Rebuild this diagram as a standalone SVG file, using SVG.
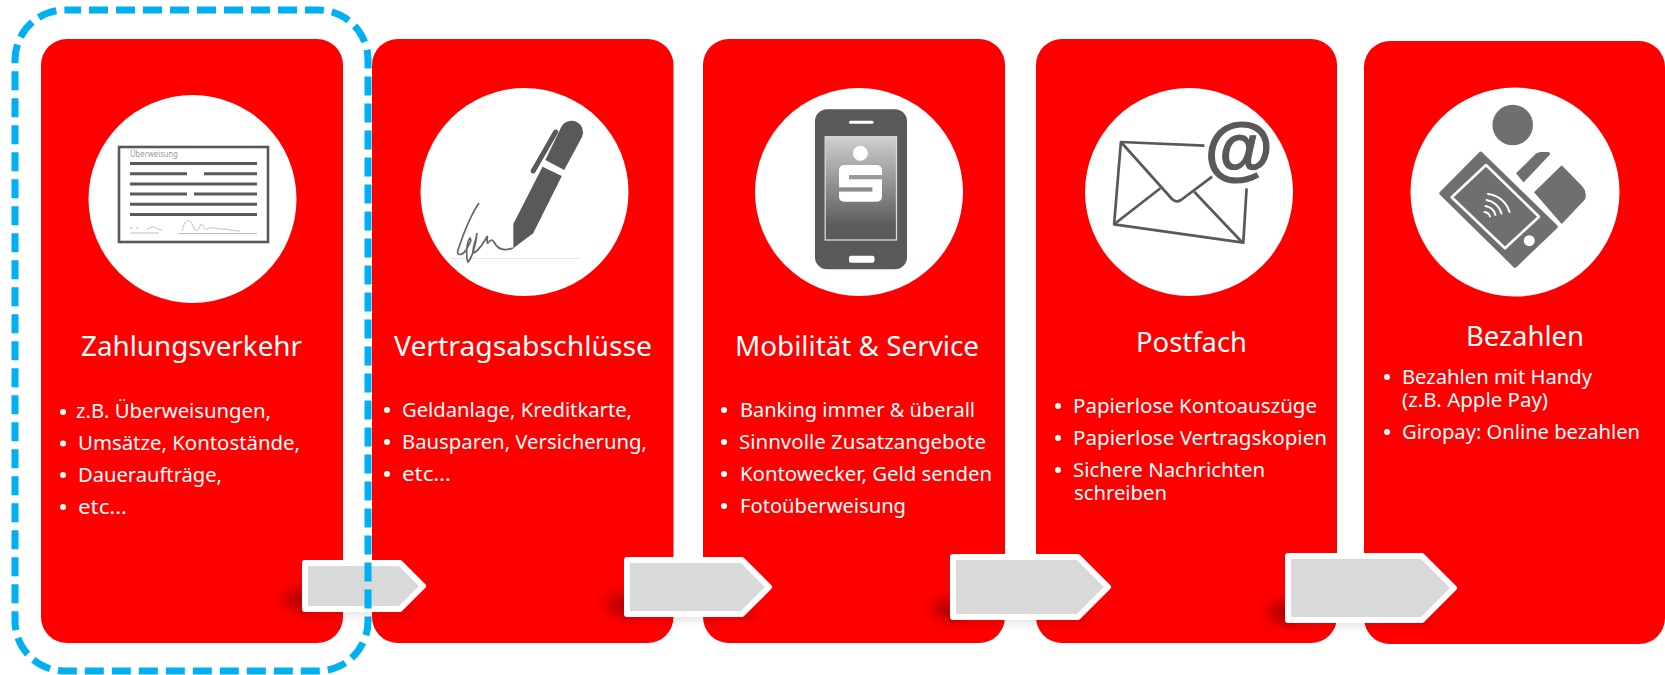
<svg xmlns="http://www.w3.org/2000/svg" width="1665" height="675" viewBox="0 0 1665 675">
<style>
.card{fill:#ff0000}
.disc{fill:#fff}
.t{font-family:"Noto Sans","Open Sans",sans-serif;font-size:28px;fill:#fff}
.b{font-family:"Noto Sans","Open Sans",sans-serif;font-size:20.5px;fill:#fff}
.dot{fill:#fff}
.ic{fill:#595959}
.ln{stroke:#595959;stroke-width:3;fill:none}
.gl{stroke:#bdbdbd;stroke-width:1;fill:none}
.ar{fill:#d9d9d9;stroke:#fff;stroke-width:6;stroke-linejoin:round}
.s1{fill:#000;opacity:.3;filter:url(#bl)}
.s2{fill:#000;opacity:.1;filter:url(#bl2)}
.pay{fill:#6f6f6f}
.w{fill:none;stroke:#fff;stroke-width:2;stroke-linecap:round}
</style>
<defs>
<linearGradient id="scr" gradientUnits="userSpaceOnUse" x1="0" y1="137" x2="0" y2="240"><stop offset="0" stop-color="#cfcfcf"/><stop offset=".85" stop-color="#5d5d5d"/><stop offset="1" stop-color="#595959"/></linearGradient>
<filter id="bl" x="-80%" y="-80%" width="260%" height="260%"><feGaussianBlur stdDeviation="7"/></filter>
<filter id="bl2" x="-20%" y="-100%" width="140%" height="300%"><feGaussianBlur stdDeviation="4"/></filter>
</defs>

<g id="node-zahlungsverkehr">
<rect class="card" x="41" y="39" width="302" height="604" rx="26"/>
<circle class="disc" cx="192.500" cy="199" r="104"/>
<rect x="119" y="147" width="149" height="95" fill="#fff" stroke="#595959" stroke-width="2.600"/>
<text x="130" y="157" font-family="Noto Sans, sans-serif" font-size="9" fill="#9a9a9a" textLength="48" lengthAdjust="spacingAndGlyphs">Überweisung</text>
<path class="ln" d="M130 163.500H257M130 173.700H187M204 173.700H257M130 184H257M130 194H187M194 194H257M130 204.200H257M130 214.500H257"/>
<path class="gl" d="M130 233H159M178 233.500H257M147 229C150 228 152 226 154 227C156 228 158 230 162 230M182 231C185 218 190 218 193 226C195 232 198 232 200 226C202 219 204 232 207 229C212 226 216 229 222 229C228 229 232 231 240 231"/>
<path class="gl" d="M130 228h3M136 228h3"/>
<text class="t" x="81" y="356" textLength="221" lengthAdjust="spacingAndGlyphs">Zahlungsverkehr</text>
<circle class="dot" cx="63" cy="412" r="3"/><circle class="dot" cx="63" cy="443.500" r="3"/><circle class="dot" cx="63" cy="475" r="3"/><circle class="dot" cx="63" cy="507" r="3"/>
<text class="b" x="76" y="418" textLength="195" lengthAdjust="spacingAndGlyphs">z.B. Überweisungen,</text>
<text class="b" x="78" y="450" textLength="222" lengthAdjust="spacingAndGlyphs">Umsätze, Kontostände,</text>
<text class="b" x="78" y="482" textLength="144" lengthAdjust="spacingAndGlyphs">Daueraufträge,</text>
<text class="b" x="78" y="514" textLength="49" lengthAdjust="spacingAndGlyphs">etc…</text>
</g>

<g id="node-vertragsabschluesse">
<rect class="card" x="372" y="39" width="301.500" height="604" rx="26"/>
<circle class="disc" cx="524.500" cy="192" r="104"/>
<path d="M450.600 258.500H580.400" stroke="#e6e6e6" stroke-width="1" fill="none"/>
<path class="ic" d="M513.300 248.300V224L542.500 166.700L561.800 176L533.200 233.300Z"/>
<path class="ic" d="M545.300 160L561 127.500A11.500 11.500 0 0 1 582 137L564.200 170Z"/>
<path d="M555.600 132L533.200 171" stroke="#595959" stroke-width="5" stroke-linecap="round" fill="none"/>
<path d="M479 203C470 216 462 238 458 250C456 256 462 256 466 250C470 243 472 240 470 238C466 243 466 258 468 262C472 258 476 244 477 233C476 240 472 250 473 253C478 252 484 242 487.400 236C487 240 487 244 488 243C490 240 492 239 494 242C498 250 505 251 513 248" fill="none" stroke="#666" stroke-width="1.700"/>
<text class="t" x="394" y="356" textLength="258" lengthAdjust="spacingAndGlyphs">Vertragsabschlüsse</text>
<circle class="dot" cx="387" cy="410" r="3"/><circle class="dot" cx="387" cy="442" r="3"/><circle class="dot" cx="387" cy="474" r="3"/>
<text class="b" x="402" y="417" textLength="230" lengthAdjust="spacingAndGlyphs">Geldanlage, Kreditkarte,</text>
<text class="b" x="402" y="449" textLength="245" lengthAdjust="spacingAndGlyphs">Bausparen, Versicherung,</text>
<text class="b" x="402" y="481" textLength="49" lengthAdjust="spacingAndGlyphs">etc…</text>
</g>

<g id="node-mobilitaet">
<rect class="card" x="703" y="39" width="302" height="604" rx="26"/>
<circle class="disc" cx="859" cy="192" r="104"/>
<rect class="ic" x="815" y="109.300" width="92" height="160" rx="12"/>
<rect x="849" y="120.800" width="24.500" height="3" rx="1.500" fill="#fff"/>
<rect x="825.200" y="136.700" width="71.300" height="103.300" fill="url(#scr)" stroke="#d9d9d9" stroke-width="1.300"/>
<rect x="849" y="255.700" width="25.500" height="7" rx="2" fill="#fff"/>
<circle cx="860.400" cy="153.300" r="7.500" fill="#fff"/>
<rect x="839" y="165" width="43" height="36.700" rx="5" fill="#fff"/>
<rect x="849" y="175" width="33" height="4.300" fill="url(#scr)"/>
<rect x="839" y="187.300" width="33.400" height="4.300" fill="url(#scr)"/>
<text class="t" x="735" y="356" textLength="244" lengthAdjust="spacingAndGlyphs">Mobilität &amp; Service</text>
<circle class="dot" cx="724" cy="410" r="3"/><circle class="dot" cx="724" cy="442" r="3"/><circle class="dot" cx="724" cy="474" r="3"/><circle class="dot" cx="724" cy="506" r="3"/>
<text class="b" x="740" y="417" textLength="235" lengthAdjust="spacingAndGlyphs">Banking immer &amp; überall</text>
<text class="b" x="739" y="449" textLength="247" lengthAdjust="spacingAndGlyphs">Sinnvolle Zusatzangebote</text>
<text class="b" x="740" y="481" textLength="252" lengthAdjust="spacingAndGlyphs">Kontowecker, Geld senden</text>
<text class="b" x="740" y="513" textLength="166" lengthAdjust="spacingAndGlyphs">Fotoüberweisung</text>
</g>

<g id="node-postfach">
<rect class="card" x="1036" y="39" width="301" height="604" rx="26"/>
<circle class="disc" cx="1189" cy="192" r="104"/>
<g fill="none" stroke="#595959" stroke-width="2.700" stroke-linejoin="round">
<path d="M1204.400 145.700L1120.900 142L1114.100 224.300L1243.300 242.700L1246.600 188.300"/>
<path d="M1120.900 142L1172 199Q1176 203 1181 200L1212.200 176.700"/>
<path d="M1160.400 188.300L1114.100 224.300M1194.200 191.700L1241.600 241.700"/>
</g>
<text x="1239" y="172" text-anchor="middle" font-family="Liberation Sans, sans-serif" font-weight="700" font-size="70" fill="#595959" stroke="#595959" stroke-width="1.200">@</text>
<text class="t" x="1136" y="352" textLength="111" lengthAdjust="spacingAndGlyphs">Postfach</text>
<circle class="dot" cx="1058" cy="406" r="3"/><circle class="dot" cx="1058" cy="438" r="3"/><circle class="dot" cx="1058" cy="470" r="3"/>
<text class="b" x="1073" y="413" textLength="244" lengthAdjust="spacingAndGlyphs">Papierlose Kontoauszüge</text>
<text class="b" x="1073" y="445" textLength="254" lengthAdjust="spacingAndGlyphs">Papierlose Vertragskopien</text>
<text class="b" x="1073" y="477" textLength="192" lengthAdjust="spacingAndGlyphs">Sichere Nachrichten</text>
<text class="b" x="1074" y="500" textLength="93" lengthAdjust="spacingAndGlyphs">schreiben</text>
</g>

<g id="node-bezahlen">
<rect class="card" x="1364" y="41" width="301" height="603" rx="26"/>
<circle class="disc" cx="1515" cy="192" r="104.500"/>
<circle class="pay" cx="1512.700" cy="125" r="20.300"/>
<path class="pay" stroke="#6f6f6f" stroke-width="4" stroke-linejoin="round" d="M1441.300 193.300L1480.700 153.700L1555.700 226.700L1515 265.700Z"/>
<path fill="none" stroke="#fff" stroke-width="2.600" stroke-linejoin="round" d="M1451.700 197.300L1486 165L1539 216.700L1505 248.300Z"/>
<circle cx="1529.300" cy="240.700" r="5.500" fill="#fff"/>
<path class="w" d="M1484.500 212A6.500 6.500 0 0 1 1490 216.500M1485.500 206A12.500 12.500 0 0 1 1495.500 215M1486.500 200A18.500 18.500 0 0 1 1501.500 213.500M1488 194A25 25 0 0 1 1509.500 212"/>
<path class="pay" d="M1516 173.300L1536 153.500Q1538 152 1541 152H1548Q1551 152.500 1549.500 155L1523.500 182.500Z"/>
<path class="pay" d="M1534 192.300L1561.700 165.300L1582 186Q1585.700 190 1585.700 194V197Q1585.700 199 1584 200.500L1561.700 224Z"/>
<text class="t" x="1466" y="346" textLength="118" lengthAdjust="spacingAndGlyphs">Bezahlen</text>
<circle class="dot" cx="1387" cy="377" r="3"/><circle class="dot" cx="1387" cy="432" r="3"/>
<text class="b" x="1402" y="384" textLength="190" lengthAdjust="spacingAndGlyphs">Bezahlen mit Handy</text>
<text class="b" x="1402" y="407" textLength="146" lengthAdjust="spacingAndGlyphs">(z.B. Apple Pay)</text>
<text class="b" x="1402" y="439" textLength="238" lengthAdjust="spacingAndGlyphs">Giropay: Online bezahlen</text>
</g>

<g id="connectors">
<ellipse class="s1" cx="302" cy="599" rx="18" ry="10"/><rect class="s2" x="300" y="604" width="115" height="12"/>
<path class="ar" d="M305 563H400L423 586L400 609H305Z"/>
<ellipse class="s1" cx="624" cy="604" rx="18" ry="10"/><rect class="s2" x="622" y="609" width="135" height="12"/>
<path class="ar" d="M627 560H742L769 587L742 614H627Z"/>
<ellipse class="s1" cx="950" cy="609" rx="18" ry="10"/><rect class="s2" x="948" y="612" width="140" height="12"/>
<path class="ar" d="M953 557H1078L1108 587L1078 617H953Z"/>
<ellipse class="s1" cx="1285" cy="612" rx="18" ry="10"/><rect class="s2" x="1283" y="615" width="148" height="12"/>
<path class="ar" d="M1288 556H1422L1454 588L1422 620H1288Z"/>
</g>

<g id="highlight">
<rect x="15" y="10" width="353" height="661" rx="50" fill="none" stroke="#00b0f0" stroke-width="7" stroke-dasharray="19 8" stroke-dashoffset="3"/>
</g>
</svg>
